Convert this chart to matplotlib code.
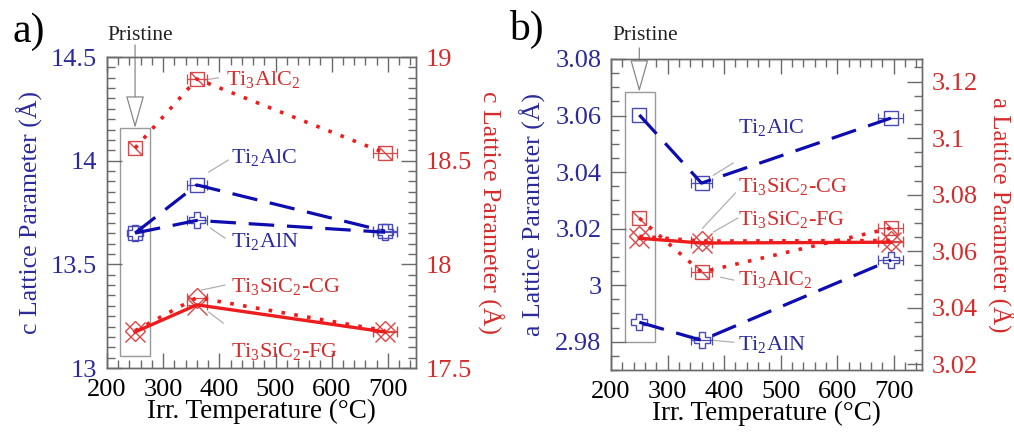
import numpy as np
import matplotlib
matplotlib.use('Agg')
import matplotlib.pyplot as plt
from matplotlib.path import Path
from matplotlib.patches import Rectangle
from matplotlib.ticker import MultipleLocator, FuncFormatter

plt.rcParams['font.family'] = 'serif'
plt.rcParams['font.serif'] = ['Liberation Serif']
plt.rcParams['mathtext.fontset'] = 'custom'
plt.rcParams['mathtext.rm'] = 'Liberation Serif'
plt.rcParams['mathtext.it'] = 'Liberation Serif:italic'

# pristine samples are drawn at 250 inside the grey box
temps = [250, 360, 695]
temp_err = [0, 18, 22]

# a) c lattice parameter (A)
c_ti2alc = [13.651, 13.883, 13.660]
c_ti2aln = [13.651, 13.712, 13.655]
c_ti3alc2 = [18.561, 18.894, 18.537]
c_sic_cg = [17.680, 17.840, 17.680]
c_sic_fg = [17.674, 17.805, 17.674]

# b) a lattice parameter (A)
a_ti2alc = [3.0602, 3.0361, 3.0591]
a_ti2aln = [2.9869, 2.9805, 3.0089]
a_ti3alc2 = [3.0717, 3.0526, 3.0682]
a_sic_cg = [3.0653, 3.0636, 3.0638]
a_sic_fg = [3.0646, 3.0629, 3.0632]

BLUE = '#0c0cb0'
BLUE_TXT = '#2a2a9c'
BLUE_MK = '#4a4ab4'
RED = '#ee1c1c'
RED_TXT = '#d42c2c'
RED_MK = '#d84848'
GREY = '#6a6a6a'
LINK = '#b0b0b0'

# open square with a diagonal
sq_diag = Path([(-1, 1), (1, 1), (1, -1), (-1, -1), (-1, 1), (-1, 1), (1, -1)],
               [Path.MOVETO, Path.LINETO, Path.LINETO, Path.LINETO, Path.CLOSEPOLY,
                Path.MOVETO, Path.LINETO])

fmt = FuncFormatter(lambda v, p: '%g' % round(v, 4))


def series(ax, vals, marker, ms, mcol, lcol, ls, lw, mew=1.0):
    ax.plot(temps, vals, linestyle='none', marker=marker, ms=ms, mfc='none',
            mec=mcol, mew=mew, zorder=3)
    ax.errorbar(temps[1:], vals[1:], xerr=temp_err[1:], fmt='none', ecolor=mcol,
                elinewidth=0.9, capsize=3.5, capthick=0.9, zorder=3)
    ax.plot(temps, vals, color=lcol, lw=lw, linestyle=ls, zorder=4)


def style(ax, ax2, ylim, ylim2, major, minor, major2, minor2):
    ax.set_xlim(200, 750)
    ax.set_ylim(*ylim)
    ax2.set_ylim(*ylim2)
    ax.xaxis.set_major_locator(MultipleLocator(100))
    ax.xaxis.set_minor_locator(MultipleLocator(20))
    ax.yaxis.set_major_locator(MultipleLocator(major))
    ax.yaxis.set_minor_locator(MultipleLocator(minor))
    ax2.yaxis.set_major_locator(MultipleLocator(major2))
    ax2.yaxis.set_minor_locator(MultipleLocator(minor2))
    ax.yaxis.set_major_formatter(fmt)
    ax2.yaxis.set_major_formatter(fmt)
    for a in (ax, ax2):
        for s in a.spines.values():
            s.set_color(GREY)
            s.set_linewidth(1.0)
    ax.tick_params(which='both', direction='in', top=True, color=GREY, width=1.0)
    ax.tick_params(which='major', length=11)
    ax.tick_params(which='minor', length=6)
    ax.tick_params(axis='x', labelsize=19, pad=8, labelcolor='black')
    ax.tick_params(axis='y', labelsize=19, pad=7, labelcolor=BLUE_TXT)
    ax2.tick_params(which='both', direction='in', color=GREY, width=1.0,
                    labelsize=19, pad=7, labelcolor=RED_TXT)
    ax2.tick_params(which='major', length=11)
    ax2.tick_params(which='minor', length=6)
    ax.set_xlabel('Irr. Temperature (°C)', fontsize=19.5)
    ax.xaxis.set_label_coords(0.5, -0.10)


def label(ax, x, y, s, col, link):
    ax.text(x, y, s, color=col, fontsize=16, va='baseline', ha='left', zorder=5)
    ax.plot(link[0], link[1], color=LINK, lw=0.9, zorder=2)


def pristine(ax, x0, x1, y0, y1, ytxt, yarrow):
    ax.add_patch(Rectangle((x0, y0), x1 - x0, y1 - y0, fill=False, ec='#999999',
                           lw=1.0, zorder=1))
    ax.text(260, ytxt, 'Pristine', fontsize=15.5, ha='center', va='baseline',
            color='#222222')
    ax.annotate('', xy=(250, y1), xytext=(250, yarrow), annotation_clip=False,
                arrowprops=dict(arrowstyle='-|>,head_length=1.6,head_width=0.45',
                                fc='white', ec='#888888', lw=0.9,
                                shrinkA=0, shrinkB=0, mutation_scale=13))


fig = plt.figure(figsize=(10.14, 4.32), dpi=100)
axA = fig.add_axes([0.1055, 0.148, 0.3047, 0.72])
axA2 = axA.twinx()
axB = fig.add_axes([0.6026, 0.1435, 0.3067, 0.72])
axB2 = axB.twinx()

blue_dash = (0, (8, 4))
red_dot = (0, (1, 2.6))

# ---- a) ----
series(axA, c_ti2alc, 's', 10, BLUE_MK, BLUE, blue_dash, 2.3)
series(axA, c_ti2aln, 'P', 11, BLUE_MK, BLUE, blue_dash, 2.3)
series(axA2, c_ti3alc2, sq_diag, 10, RED_MK, RED, red_dot, 2.6)
series(axA2, c_sic_cg, 'D', 10.5, RED_MK, RED, red_dot, 2.6)
series(axA2, c_sic_fg, 'x', 15, RED_MK, RED, '-', 2.4)
style(axA, axA2, (13, 14.5), (17.5, 19), 0.5, 0.05, 0.5, 0.05)
axA.set_ylabel('c Lattice Parameter (Å)', fontsize=18.5, color=BLUE_TXT, va='center')
axA.yaxis.set_label_coords(-0.25, 0.5)
axA2.set_ylabel('c Lattice Parameter (Å)', fontsize=18.5, color=RED_TXT,
                rotation=270, va='center')
axA2.yaxis.set_label_coords(1.24, 0.5)

label(axA2, 412, 18.865, r'Ti$_3$AlC$_2$', RED_TXT, ([374, 398], [18.889, 18.90]))
label(axA, 421, 13.989, r'Ti$_2$AlC', BLUE_TXT, ([381, 416], [13.945, 14.003]))
label(axA, 421, 13.584, r'Ti$_2$AlN', BLUE_TXT, ([384, 410], [13.675, 13.627]))
label(axA2, 421, 17.867, r'Ti$_3$SiC$_2$-CG', RED_TXT, ([368, 410], [17.876, 17.90]))
label(axA2, 421, 17.553, r'Ti$_3$SiC$_2$-FG', RED_TXT, ([381, 407], [17.77, 17.717]))
pristine(axA, 223, 276, 13.06, 14.157, 14.582, 14.558)

# ---- b) ----
series(axB, a_ti2alc, 's', 10, BLUE_MK, BLUE, blue_dash, 2.3)
series(axB, a_ti2aln, 'P', 11, BLUE_MK, BLUE, blue_dash, 2.3)
series(axB2, a_ti3alc2, sq_diag, 10, RED_MK, RED, red_dot, 2.6)
series(axB2, a_sic_cg, 'D', 10.5, RED_MK, RED, red_dot, 2.6)
series(axB2, a_sic_fg, 'x', 15, RED_MK, RED, '-', 2.4)
style(axB, axB2, (2.97, 3.08), (3.018, 3.128), 0.02, 0.005, 0.02, 0.005)
axB.set_ylabel('a Lattice Parameter (Å)', fontsize=18.5, color=BLUE_TXT, va='center')
axB.yaxis.set_label_coords(-0.25, 0.5)
axB2.set_ylabel('a Lattice Parameter (Å)', fontsize=18, color=RED_TXT,
                rotation=270, va='center')
axB2.yaxis.set_label_coords(1.252, 0.5)

label(axB, 424, 3.0538, r'Ti$_2$AlC', BLUE_TXT, ([381, 416], [3.0389, 3.0432]))
label(axB2, 424, 3.0809, r'Ti$_3$SiC$_2$-CG', RED_TXT, ([362, 420], [3.0682, 3.0806]))
label(axB2, 424, 3.0692, r'Ti$_3$SiC$_2$-FG', RED_TXT, ([381, 424], [3.0668, 3.0717]))
label(axB2, 424, 3.048, r'Ti$_3$AlC$_2$', RED_TXT, ([394, 417], [3.0508, 3.0498]))
label(axB, 424, 2.977, r'Ti$_2$AlN', BLUE_TXT, ([381, 417], [2.9805, 2.9798]))
pristine(axB, 225, 277, 2.980, 3.0683, 3.0867, 3.0839)

fig.text(0.012, 0.903, 'a)', fontsize=30, va='baseline')
fig.text(0.502, 0.907, 'b)', fontsize=30, va='baseline')

fig.savefig('out.png', dpi=100)
